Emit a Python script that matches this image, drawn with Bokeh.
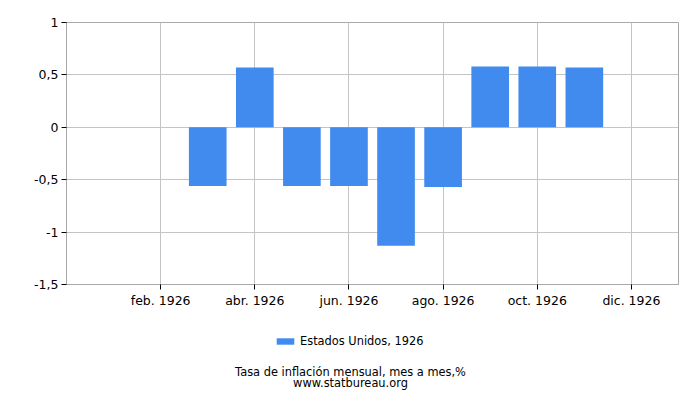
from bokeh.plotting import figure
from bokeh.layouts import column
from bokeh.models import (Range1d, FixedTicker, Legend, LegendItem, Label,
                          ColumnDataSource)
from bokeh.embed import file_html
from bokeh.resources import INLINE

# Data
months = [1, 2, 3, 4, 5, 6, 7, 8, 9, 10, 11, 12]
values = [0.0, 0.0, -0.56, 0.57, -0.56, -0.56, -1.13, -0.57, 0.58, 0.58, 0.57, 0.0]
x_tick_pos = [2, 4, 6, 8, 10, 12]
x_tick_labels = ["feb. 1926", "abr. 1926", "jun. 1926", "ago. 1926", "oct. 1926", "dic. 1926"]
y_tick_pos = [-1.5, -1, -0.5, 0, 0.5, 1]
y_tick_labels = ["-1,5", "-1", "-0,5", "0", "0,5", "1"]
series_name = "Estados Unidos, 1926"
title_text = "Tasa de inflación mensual, mes a mes,%"
source_text = "www.statbureau.org"

FONT = "DejaVu Sans"
FS = "12.5px"
FS_SMALL = "11.4px"
BAR = "#418BEF"
GRID = "#C4C4C4"
FRAME = "#A8A8A8"

src = ColumnDataSource(dict(x=months, top=values))

p = figure(width=692, height=320, output_backend="svg", toolbar_location=None,
           x_range=Range1d(0, 13), y_range=Range1d(-1.5, 1),
           min_border_left=66, min_border_right=14, min_border_top=22,
           min_border_bottom=36)
p.outline_line_color = FRAME
p.outline_line_width = 1

r = p.vbar(x="x", top="top", bottom=0, width=0.8, source=src,
           fill_color=BAR, line_color=None)

for ax in (p.xaxis[0], p.yaxis[0]):
    ax.axis_line_color = FRAME
    ax.major_tick_line_color = "#000000"
    ax.major_tick_out = 5
    ax.major_tick_in = 0
    ax.minor_tick_line_color = None
    ax.major_label_text_font = FONT
    ax.major_label_text_font_size = FS
    ax.major_label_text_color = "#000000"

p.xaxis[0].ticker = FixedTicker(ticks=x_tick_pos)
p.xaxis[0].major_label_overrides = {k: v for k, v in zip(x_tick_pos, x_tick_labels)}
p.xaxis[0].major_label_standoff = 3
p.yaxis[0].ticker = FixedTicker(ticks=y_tick_pos)
p.yaxis[0].major_label_overrides = {k: v for k, v in zip(y_tick_pos, y_tick_labels)}
p.yaxis[0].major_label_standoff = 3

p.xgrid.ticker = FixedTicker(ticks=x_tick_pos)
p.ygrid.ticker = FixedTicker(ticks=y_tick_pos)
for g in (p.xgrid[0], p.ygrid[0]):
    g.grid_line_color = GRID
    g.grid_line_width = 1

# Bottom strip: legend and captions (its frame is aligned with the chart frame)
p2 = figure(width=700, height=72, output_backend="svg", toolbar_location=None,
            x_axis_type=None, y_axis_type=None,
            x_range=Range1d(0, 13), y_range=Range1d(10, 11),
            min_border_left=0, min_border_right=0, min_border_top=0,
            min_border_bottom=0)
p2.outline_line_color = None
p2.grid.visible = False
r2 = p2.vbar(x="x", top="top", bottom=0, width=0.8, source=src,
             fill_color=BAR, line_color=None)

legend = Legend(items=[LegendItem(label=series_name, renderers=[r2])],
                location=(208, 44), orientation="horizontal",
                padding=0, margin=0, spacing=0,
                glyph_width=22, glyph_height=8, label_height=8,
                label_standoff=4, border_line_color=None,
                background_fill_alpha=0,
                label_text_font=FONT, label_text_font_size=FS_SMALL,
                label_text_color="#000000")
p2.add_layout(legend, "center")

for txt, yy in ((title_text, 21), (source_text, 10)):
    p2.add_layout(Label(x=284, y=yy, x_units="screen", y_units="screen",
                        text=txt, text_align="center", text_baseline="middle",
                        text_font=FONT, text_font_size=FS_SMALL,
                        text_color="#000000"))

open("out.html", "w").write(file_html(column(p, p2, spacing=0), INLINE))
